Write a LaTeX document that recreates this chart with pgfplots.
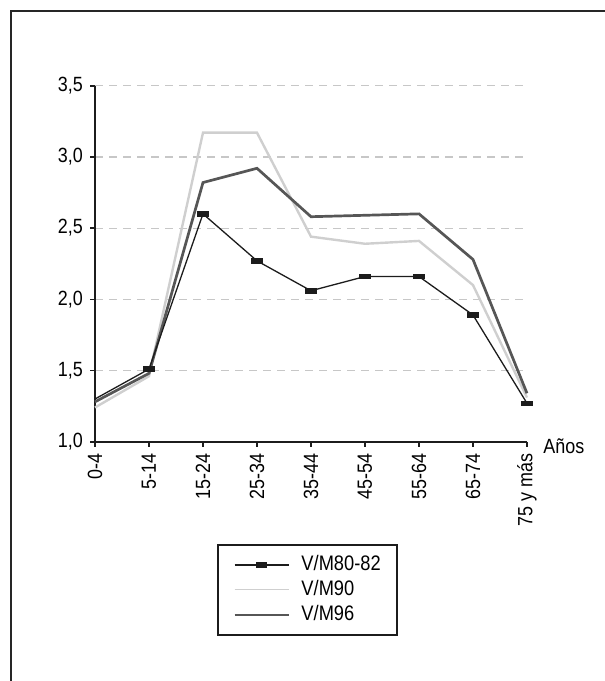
\documentclass[border=0pt]{standalone}
\usepackage{fontspec}
\setmainfont{Liberation Sans}[FakeStretch=0.87]
\usepackage{pgfplots}
\pgfplotsset{compat=1.18}
\definecolor{lightg}{HTML}{CFCFCF}
\definecolor{darkg}{HTML}{565656}
\definecolor{blk}{HTML}{1C1C1C}
\pgfplotstableread{
x a b c
0 1.30 1.24 1.28
1 1.51 1.46 1.48
2 2.60 3.17 2.82
3 2.27 3.17 2.92
4 2.06 2.44 2.58
5 2.16 2.39 2.59
6 2.16 2.41 2.60
7 1.89 2.10 2.28
8 1.27 1.31 1.34
}\datatable
\begin{document}
\fontsize{10.3}{12.4}\selectfont
\begin{tikzpicture}[x=1pt,y=1pt]
\useasboundingbox (0,0) rectangle (302.5,340.5);
\draw[line width=0.85pt, black!85] (5.5,-5) -- (5.5,335) -- (310,335);
\begin{axis}[
  at={(47.5pt,119.65pt)}, anchor=south west,
  scale only axis, width=216pt, height=178pt,
  xmin=0, xmax=8, ymin=1, ymax=3.5,
  clip=false,
  axis x line*=bottom, axis y line*=left,
  axis line style={-, line width=0.8pt, blk},
  xtick={0,1,2,3,4,5,6,7,8},
  xticklabels={0-4,5-14,15-24,25-34,35-44,45-54,55-64,65-74,75 y más},
  xticklabel style={rotate=90, anchor=east},
  ytick={1,1.5,2,2.5,3,3.5},
  yticklabel style={/pgf/number format/.cd, fixed, fixed zerofill, precision=1, use comma, assume math mode=true},
  tick label style={font=\fontsize{10.3}{12}\selectfont},
  major tick length=2.5pt, tick align=outside,
  tick style={line width=0.8pt, blk},
  ymajorgrids,
  grid style={dash pattern=on 4pt off 3pt, line width=0.6pt, color=black!22},
  xlabel={Años},
  xlabel style={at={(1,0)}, anchor=west, xshift=4.6pt, yshift=-2.4pt, font=\fontsize{10.3}{12}\selectfont},
  legend image code/.code={\draw[mark repeat=2,mark phase=2,#1] plot coordinates {(0pt,0pt) (13.5pt,0pt) (27pt,0pt)};},
  legend cell align=left,
  legend style={at={(0.2824,-0.2874)}, anchor=north west, draw=blk, line width=0.8pt,
    font=\fontsize{10.5}{12}\selectfont,
    inner xsep=8pt, inner ysep=3.75pt,
    nodes={inner xsep=0pt, inner ysep=1.5pt, text height=7.5pt, text depth=2pt},
    /tikz/every odd column/.append style={column sep=6pt}},
]
\addlegendimage{line width=0.7pt, blk, mark=square*, mark size=1pt, mark options={xscale=2.5, solid, fill=blk, draw=blk}}
\addlegendentry{V/M80-82}
\addlegendimage{line width=0.65pt, lightg}
\addlegendentry{V/M90}
\addlegendimage{line width=0.85pt, darkg}
\addlegendentry{V/M96}
\addplot[forget plot, line width=1.2pt, lightg] table[x=x,y=b] {\datatable};
\addplot[forget plot, line width=1.35pt, darkg] table[x=x,y=c] {\datatable};
\addplot[forget plot, line width=0.65pt, blk, mark=square*, mark size=1.05pt, mark indices={2,3,4,5,6,7,8,9}, mark options={xscale=2.5, fill=blk, draw=blk}] table[x=x,y=a] {\datatable};
\end{axis}
\end{tikzpicture}
\end{document}
